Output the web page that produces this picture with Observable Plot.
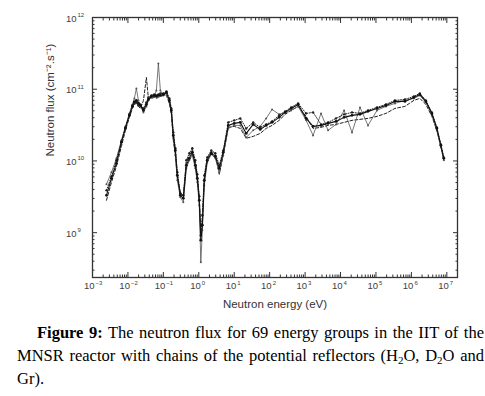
<!DOCTYPE html>
<html><head><meta charset="utf-8">
<script src="https://cdn.jsdelivr.net/npm/d3@7"></script>
<script src="https://cdn.jsdelivr.net/npm/@observablehq/plot@0.6"></script>
<style>
body{margin:0;background:#fff;}
#cap{font-family:"Liberation Serif","Times New Roman",serif;font-size:16.5px;line-height:23px;color:#000;padding:0 1px 0 17px;width:467px;margin-top:1px;}
.l{text-align:justify;text-align-last:justify;}
sub{font-size:11px;vertical-align:-3px;line-height:0;}
</style></head><body>
<div id="chart"></div>
<div id="cap">
<div class="l" style="text-indent:20px"><b>Figure 9:</b> The neutron flux for 69 energy groups in the IIT of the</div>
<div class="l">MNSR reactor with chains of the potential reflectors (H<sub>2</sub>O, D<sub>2</sub>O and</div>
<div>Gr).</div>
</div>
<script>
// Energy group mid-points (eV)
const energy = [2.48e-3,3.43e-3,4.74e-3,6.56e-3,8.5e-3,1.10e-2,1.34e-2,1.52e-2,1.73e-2,1.98e-2,
2.25e-2,2.74e-2,3.32e-2,3.78e-2,4.59e-2,5.57e-2,6.35e-2,7.23e-2,8.22e-2,0.1,
0.122,0.148,0.168,0.191,0.218,0.248,0.301,0.366,0.445,0.540,
0.656,0.796,0.908,1.03,1.14,1.26,1.43,1.73,2.25,2.92,
3.78,4.90,6.78,10,14.8,21.8,34.3,54,79.6,117,
185,274,404,635,1067,1680,2820,4440,7460,1.26e4,
2.11e4,3.54e4,5.96e4,1.07e5,1.91e5,3.43e5,6.56e5,1.17e6,1.73e6,2.56e6,
3.78e6,5.22e6,6.78e6,8.22e6];
// Flux values in units of 1e10 n/(cm^2 s)
const fluxUnit = 1e10;
const fluxRef = [0.332,0.572,0.926,1.82,2.84,4.32,5.76,6.55,6.98,6.34,
5.95,5.07,6.14,7.21,7.94,8.19,7.94,8.19,8.19,8.46,
9.02,6.98,5.07,2.27,1.40,0.630,0.332,0.301,0.868,1.087,
1.32,0.868,0.572,0.283,0.0784,0.127,0.537,1.02,1.28,1.16,
0.789,1.32,3.13,3.34,3.45,2.42,3.23,2.75,3.13,3.45,
4.05,4.75,5.40,6.14,3.92,3.03,3.13,3.34,3.56,4.05,
4.32,4.46,4.91,5.40,5.95,6.76,6.76,7.69,8.46,6.76,
4.60,2.84,1.65,1.087];
const fluxH2O = [0.472,0.694,1.087,1.94,3.03,4.60,6.14,7.45,10.26,6.98,
5.76,4.75,5.76,6.98,7.69,7.94,9.62,22.9,9.62,8.19,
8.74,6.55,4.75,2.07,1.20,0.537,0.311,0.265,0.789,1.02,
1.20,0.789,0.504,0.241,0.0387,0.108,0.457,0.956,1.236,1.087,
0.694,1.20,2.84,3.13,3.13,2.13,2.67,3.03,3.92,5.23,
4.46,4.75,5.07,5.76,3.68,2.27,4.60,2.67,3.23,5.07,
2.50,5.58,3.13,5.07,5.76,6.34,6.98,7.45,8.19,6.55,
4.46,2.67,1.55,1.02];
const fluxD2O = [0.283,0.504,0.841,1.60,2.67,4.05,5.40,6.14,6.34,5.76,
5.40,6.98,14.6,7.45,7.45,7.69,7.45,7.69,7.94,8.19,
8.19,6.34,4.46,1.94,1.20,0.572,0.365,0.321,0.956,1.20,
1.40,0.956,0.610,0.301,0.108,0.149,0.572,1.087,1.36,1.236,
0.651,1.20,2.94,3.03,2.84,2.07,2.20,2.42,2.84,3.13,
3.68,4.46,5.07,5.76,4.18,2.84,2.94,3.13,3.23,3.45,
3.68,3.80,3.92,4.18,4.60,5.40,5.76,6.98,7.45,6.14,
4.18,2.67,1.60,1.02];
const fluxGr = [0.389,0.610,1.02,1.87,2.94,4.46,5.95,6.76,6.55,5.95,
6.14,5.40,6.55,7.69,8.19,8.46,8.19,8.46,8.74,8.74,
9.32,7.45,5.40,2.50,1.50,0.694,0.354,0.332,1.02,1.28,
1.50,1.02,0.651,0.321,0.092,0.175,0.630,1.12,1.40,1.28,
0.868,1.40,3.45,3.68,3.92,2.84,3.45,2.94,3.23,3.56,
4.32,4.91,5.58,6.34,4.60,4.75,3.23,3.45,3.92,4.46,
4.75,4.60,5.07,5.58,6.14,6.98,7.21,7.94,8.74,6.98,
4.75,2.94,1.70,1.12];

const xMajorExp = [-3,-2,-1,0,1,2,3,4,5,6,7];
const yMajorExp = [9,10,11,12];
const xDomain = [1e-3, 2e7];
const yDomain = [2.37e8, 1e12];
const xLabel = "Neutron energy (eV)";
const yLabel = "Neutron flux (cm\u207B\u00B2.s\u207B\u00B9)";

const xMajor = xMajorExp.map(e => 10 ** e);
const yMajor = yMajorExp.map(e => 10 ** e);
const minorOf = (exps, dom) => exps.flatMap(e => [2,3,4,5,6,7,8,9].map(m => m * 10 ** e)).filter(v => v >= dom[0] && v <= dom[1]);
const xMinor = minorOf([-3,-2,-1,0,1,2,3,4,5,6,7], xDomain);
const yMinor = minorOf([8,9,10,11], yDomain);

const series = [
  {v: fluxD2O, stroke: "#222", sw: 1, dash: "3,2", r: 0},
  {v: fluxH2O, stroke: "#555", sw: 0.8, dash: null, r: 1},
  {v: fluxGr, stroke: "#222", sw: 1, dash: "1,1.5", r: 1.2},
  {v: fluxRef, stroke: "#111", sw: 1.1, dash: null, r: 1.4}
];
const idx = energy.map((_, i) => i);

const font = "Liberation Sans, Arial, sans-serif";
const lab = "#404040";
const noText = () => "";
const marks = [];
for (const s of series) {
  marks.push(Plot.line(idx, {x: i => energy[i], y: i => s.v[i] * fluxUnit, stroke: s.stroke, strokeWidth: s.sw, strokeDasharray: s.dash}));
  if (s.r) marks.push(Plot.dot(idx, {x: i => energy[i], y: i => s.v[i] * fluxUnit, r: s.r, fill: s.stroke, stroke: "none"}));
}
for (const anchor of ["bottom", "top"]) {
  marks.push(Plot.axisX(xMajor, {anchor, tickSize: -5, tickFormat: noText, stroke: "#333", label: null}));
  marks.push(Plot.axisX(xMinor, {anchor, tickSize: -2.5, tickFormat: noText, stroke: "#333", label: null}));
}
for (const anchor of ["left", "right"]) {
  marks.push(Plot.axisY(yMajor, {anchor, tickSize: -5, tickFormat: noText, stroke: "#333", label: null}));
  marks.push(Plot.axisY(yMinor, {anchor, tickSize: -2.5, tickFormat: noText, stroke: "#333", label: null}));
}
marks.push(Plot.frame({stroke: "#333", strokeWidth: 1.3}));
// tick labels 10^n
marks.push(Plot.text(xMajorExp, {x: e => 10 ** e, text: () => "10", frameAnchor: "bottom", dy: 11, dx: 2, textAnchor: "end", fontSize: 9.5, fill: lab, fontFamily: font}));
marks.push(Plot.text(xMajorExp, {x: e => 10 ** e, text: e => String(e).replace("-", "\u2212"), frameAnchor: "bottom", dy: 7.5, dx: 3, textAnchor: "start", fontSize: 6, fill: lab, fontFamily: font}));
marks.push(Plot.text(yMajorExp, {y: e => 10 ** e, text: () => "10", frameAnchor: "left", dx: -16, dy: 1, textAnchor: "end", fontSize: 9.5, fill: lab, fontFamily: font}));
marks.push(Plot.text(yMajorExp, {y: e => 10 ** e, text: e => String(e), frameAnchor: "left", dx: -15, dy: -2.5, textAnchor: "start", fontSize: 6, fill: lab, fontFamily: font}));
marks.push(Plot.text([xLabel], {frameAnchor: "bottom", dy: 30, fontSize: 11.5, fill: "#333", fontFamily: font}));
marks.push(Plot.text([yLabel], {frameAnchor: "left", dx: -42, dy: 9, rotate: -90, fontSize: 11.5, fill: "#333", fontFamily: font}));

const chart = Plot.plot({
  width: 485, height: 320,
  marginLeft: 92, marginRight: 28, marginTop: 17, marginBottom: 43,
  x: {type: "log", domain: xDomain, axis: null},
  y: {type: "log", domain: yDomain, axis: null},
  style: {background: "#fff"},
  marks
});
document.getElementById("chart").appendChild(chart);
</script>
</body></html>
